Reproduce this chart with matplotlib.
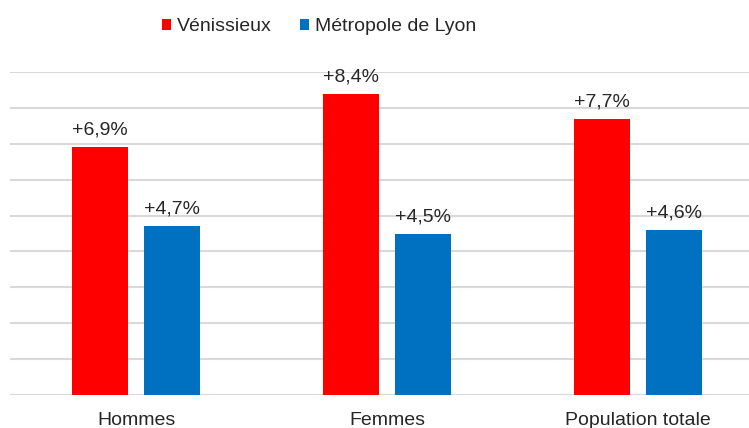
import numpy as np
import matplotlib.pyplot as plt

plt.rcParams['font.family'] = ['Liberation Sans', 'DejaVu Sans']

categories = ['Hommes', 'Femmes', 'Population totale']
venissieux = [6.9, 8.4, 7.7]
metropole = [4.7, 4.5, 4.6]
series_names = ['Vénissieux', 'Métropole de Lyon']

red = '#FF0000'
blue = '#0070C0'
txt = '#262626'

fig = plt.figure(figsize=(7.49, 4.28), dpi=100)
ax = fig.add_axes([10 / 749, 33 / 428, 739 / 749, 323 / 428])

x = np.arange(len(categories))
w = 0.223
off = 0.143
b1 = ax.bar(x - off, venissieux, w, color=red, label=series_names[0], zorder=3)
b2 = ax.bar(x + off, metropole, w, color=blue, label=series_names[1], zorder=3)

# étiquettes de données au-dessus des barres
for bars, vals in ((b1, venissieux), (b2, metropole)):
    for rect, v in zip(bars, vals):
        ax.annotate('+' + f'{v:.1f}'.replace('.', ',') + '%',
                    (rect.get_x() + rect.get_width() / 2, v),
                    xytext=(0, 9), textcoords='offset points',
                    ha='center', va='baseline', fontsize=14, color=txt)

ax.set_xlim(-0.502, 2.442)
ax.set_ylim(0, 9)
ax.set_yticks(np.arange(0, 10, 1))
ax.yaxis.grid(True, color='#D9D9D9', linewidth=1.5, zorder=0)
ax.set_axisbelow(True)
ax.tick_params(axis='y', left=False, labelleft=False)
ax.tick_params(axis='x', length=0, pad=12, labelsize=14, labelcolor=txt)
ax.set_xticks(x)
ax.set_xticklabels(categories)
for s in ax.spines.values():
    s.set_visible(False)

fig.legend(handles=[b1, b2], loc='center', bbox_to_anchor=(0.426, 0.937),
           ncol=2, frameon=False, fontsize=14, handlelength=0.45,
           handleheight=0.45, handletextpad=0.3, columnspacing=1.45,
           labelcolor=txt)

fig.savefig('out.png', dpi=100)
